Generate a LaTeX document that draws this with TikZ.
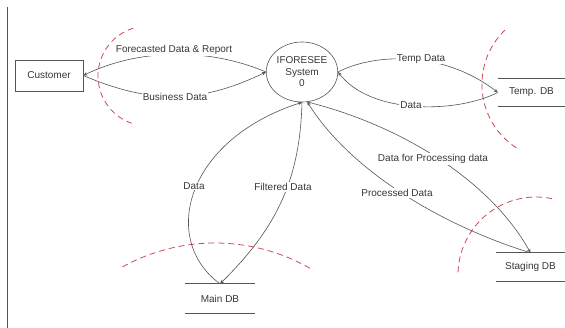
\documentclass[tikz,border=0pt]{standalone}
\usepackage{fontspec}
\setmainfont{Liberation Sans}
\usetikzlibrary{shapes.geometric,arrows.meta}
\definecolor{linegray}{RGB}{85,85,85}
\definecolor{txtgray}{RGB}{55,55,55}
\definecolor{arcred}{RGB}{205,75,85}
\begin{document}
\begin{tikzpicture}[x=1pt,y=-1pt,
  every node/.style={font=\fontsize{10}{11.5}\selectfont, text=txtgray},
  flow/.style={draw=linegray, line width=0.6pt, -{Stealth[length=4pt,width=3.4pt]}},
  lbl/.style={fill=white, inner sep=1pt},
  boundary/.style={draw=arcred, dash pattern=on 6pt off 4pt, line width=0.8pt},
  entity/.style={draw=linegray, line width=0.6pt, minimum width=68pt, minimum height=31pt, inner sep=0pt},
  process/.style={ellipse, draw=linegray, line width=0.6pt, minimum width=71pt, minimum height=60pt, inner sep=0pt, align=center},
  store/.style={inner sep=0pt}
]
\fill[white] (0,0) rectangle (565,328);
\useasboundingbox (0,0) rectangle (565,328);

% left border line
\draw[linegray, line width=0.8pt] (7,7) -- (7,328);

% nodes
\node[entity] (cust) at (49,75.5) {Customer};
\node[process] (sys) at (302,72) {IFORESEE\\System\\0};
\node[store, minimum width=67pt, minimum height=27pt] (temp) at (531.5,92.5) {Temp. DB};
\node[store, minimum width=69pt, minimum height=28pt] (staging) at (530.5,267) {Staging DB};
\node[store, minimum width=70pt, minimum height=29pt] (maindb) at (220,298.5) {Main DB};

\foreach \s in {temp,staging,maindb}{
  \draw[linegray, line width=0.6pt] (\s.north west) -- (\s.north east)
                                    (\s.south west) -- (\s.south east);
}

% boundaries (red dashed arcs)
\draw[boundary] plot[domain=253:109, samples=40] ({148+50*cos(\x)},{76+50*sin(\x)});
\draw[boundary] plot[domain=226:120, samples=40] ({557.5+75.6*cos(\x)},{84.4+75.6*sin(\x)});
\draw[boundary] plot[domain=241:301, samples=40] ({215+191*cos(\x)},{434+191*sin(\x)});
\draw[boundary] plot[domain=182:282, samples=40] ({536+78*cos(\x)},{275+78*sin(\x)});

% flows
\draw[flow] (sys.west) .. controls (210,48) and (140,48) .. (cust.east);
\draw[flow] (cust.east) .. controls (150,104) and (200,104) .. (sys.west);
\draw[flow] (sys.east) .. controls (370,55) and (440,48) .. (temp.west);
\draw[flow] (temp.west) .. controls (455,114) and (370,114) .. (sys.east);
\draw[flow] (maindb.north) .. controls (160,240) and (185,140) .. (sys.south);
\draw[flow] (sys.south) .. controls (300,175) and (280,225) .. (maindb.north);
\draw[flow] (sys.-80) .. controls (400,125) and (490,180) .. (staging.north);
\draw[flow] (staging.north) .. controls (440,225) and (350,170) .. (sys.-80);

% labels
\node[lbl] (lfore) at (174,50) {Forecasted Data \& Report};
\node[lbl] (lbus) at (175,97) {Business Data};
\node[lbl] (ltemp) at (421,59) {Temp Data};
\node[lbl] (ldata1) at (411,105) {Data};
\node[lbl] (ldata2) at (194,186) {Data};
\node[lbl] (lfilt) at (283,187) {Filtered Data};
\node[lbl] (ldfp) at (433,159) {Data for Processing data};
\node[lbl] (lproc) at (397,193) {Processed Data};
\end{tikzpicture}
\end{document}
